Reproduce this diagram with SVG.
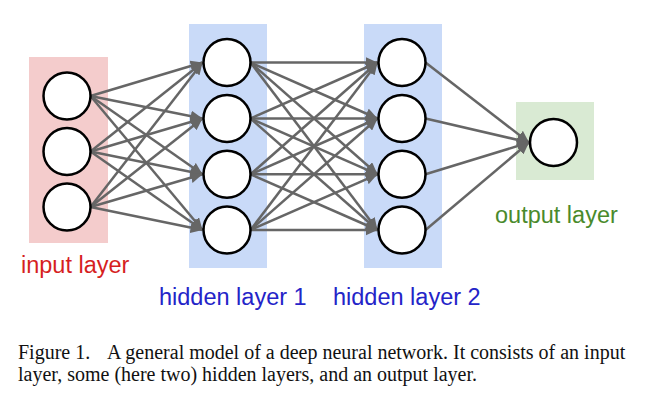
<svg xmlns="http://www.w3.org/2000/svg" width="652" height="400" viewBox="0 0 652 400">
<style>
.node{fill:#fff;stroke:#000;stroke-width:2.5}
.conn line{stroke:#666;stroke-width:2.5;marker-end:url(#ah)}
.lbl{font-family:"Liberation Sans",Arial,sans-serif;font-size:23.5px}
.cap{font-family:"Liberation Serif","Times New Roman",serif;font-size:20px;fill:#111}
</style>
<defs>
<marker id="ah" markerUnits="userSpaceOnUse" markerWidth="12" markerHeight="11" refX="12" refY="5.5" orient="auto">
<path d="M0,0 L12,5.5 L0,11 z" fill="#666"/>
</marker>
</defs>
<rect width="652" height="400" fill="#fff"/>
<g id="layer-boxes">
<rect x="29" y="57" width="79" height="186" fill="#f4cccc"/>
<rect x="189" y="24" width="78" height="244" fill="#c9daf8"/>
<rect x="364" y="24" width="78" height="244" fill="#c9daf8"/>
<rect x="516" y="102" width="78" height="78" fill="#d9ead3"/>
</g>
<g id="connectors" class="conn">
<line x1="90.5" y1="96" x2="202.5" y2="62.5"/>
<line x1="90.5" y1="96" x2="202.5" y2="118.5"/>
<line x1="90.5" y1="96" x2="202.5" y2="174.3"/>
<line x1="90.5" y1="96" x2="202.5" y2="230"/>
<line x1="90.5" y1="151.5" x2="202.5" y2="62.5"/>
<line x1="90.5" y1="151.5" x2="202.5" y2="118.5"/>
<line x1="90.5" y1="151.5" x2="202.5" y2="174.3"/>
<line x1="90.5" y1="151.5" x2="202.5" y2="230"/>
<line x1="90.5" y1="207" x2="202.5" y2="62.5"/>
<line x1="90.5" y1="207" x2="202.5" y2="118.5"/>
<line x1="90.5" y1="207" x2="202.5" y2="174.3"/>
<line x1="90.5" y1="207" x2="202.5" y2="230"/>
<line x1="250.5" y1="62.5" x2="377.5" y2="62.5"/>
<line x1="250.5" y1="62.5" x2="377.5" y2="118.5"/>
<line x1="250.5" y1="62.5" x2="377.5" y2="174.3"/>
<line x1="250.5" y1="62.5" x2="377.5" y2="230"/>
<line x1="250.5" y1="118.5" x2="377.5" y2="62.5"/>
<line x1="250.5" y1="118.5" x2="377.5" y2="118.5"/>
<line x1="250.5" y1="118.5" x2="377.5" y2="174.3"/>
<line x1="250.5" y1="118.5" x2="377.5" y2="230"/>
<line x1="250.5" y1="174.3" x2="377.5" y2="62.5"/>
<line x1="250.5" y1="174.3" x2="377.5" y2="118.5"/>
<line x1="250.5" y1="174.3" x2="377.5" y2="174.3"/>
<line x1="250.5" y1="174.3" x2="377.5" y2="230"/>
<line x1="250.5" y1="230" x2="377.5" y2="62.5"/>
<line x1="250.5" y1="230" x2="377.5" y2="118.5"/>
<line x1="250.5" y1="230" x2="377.5" y2="174.3"/>
<line x1="250.5" y1="230" x2="377.5" y2="230"/>
<line x1="425.5" y1="62.5" x2="529" y2="142.5"/>
<line x1="425.5" y1="118.5" x2="529" y2="142.5"/>
<line x1="425.5" y1="174.3" x2="529" y2="142.5"/>
<line x1="425.5" y1="230" x2="529" y2="142.5"/>
</g>
<g id="in1"><circle class="node" cx="67" cy="96" r="23.5"/></g>
<g id="in2"><circle class="node" cx="67" cy="151.5" r="23.5"/></g>
<g id="in3"><circle class="node" cx="67" cy="207" r="23.5"/></g>
<g id="h1a"><circle class="node" cx="227" cy="62.5" r="23.5"/></g>
<g id="h1b"><circle class="node" cx="227" cy="118.5" r="23.5"/></g>
<g id="h1c"><circle class="node" cx="227" cy="174.3" r="23.5"/></g>
<g id="h1d"><circle class="node" cx="227" cy="230" r="23.5"/></g>
<g id="h2a"><circle class="node" cx="402" cy="62.5" r="23.5"/></g>
<g id="h2b"><circle class="node" cx="402" cy="118.5" r="23.5"/></g>
<g id="h2c"><circle class="node" cx="402" cy="174.3" r="23.5"/></g>
<g id="h2d"><circle class="node" cx="402" cy="230" r="23.5"/></g>
<g id="out"><circle class="node" cx="553.5" cy="142.5" r="23.5"/></g>
<g id="labels">
<text class="lbl" x="21" y="273" fill="#d61f1f">input layer</text>
<text class="lbl" x="159" y="305" fill="#2424c8">hidden layer 1</text>
<text class="lbl" x="333" y="305" fill="#2424c8">hidden layer 2</text>
<text class="lbl" x="495" y="222.5" fill="#4a8a2c">output layer</text>
</g>
<g id="caption">
<text class="cap" x="18" y="359">Figure 1.<tspan x="107">A general model of a deep neural network. It consists of an input</tspan></text>
<text class="cap" x="18" y="381">layer, some (here two) hidden layers, and an output layer.</text>
</g>
</svg>
